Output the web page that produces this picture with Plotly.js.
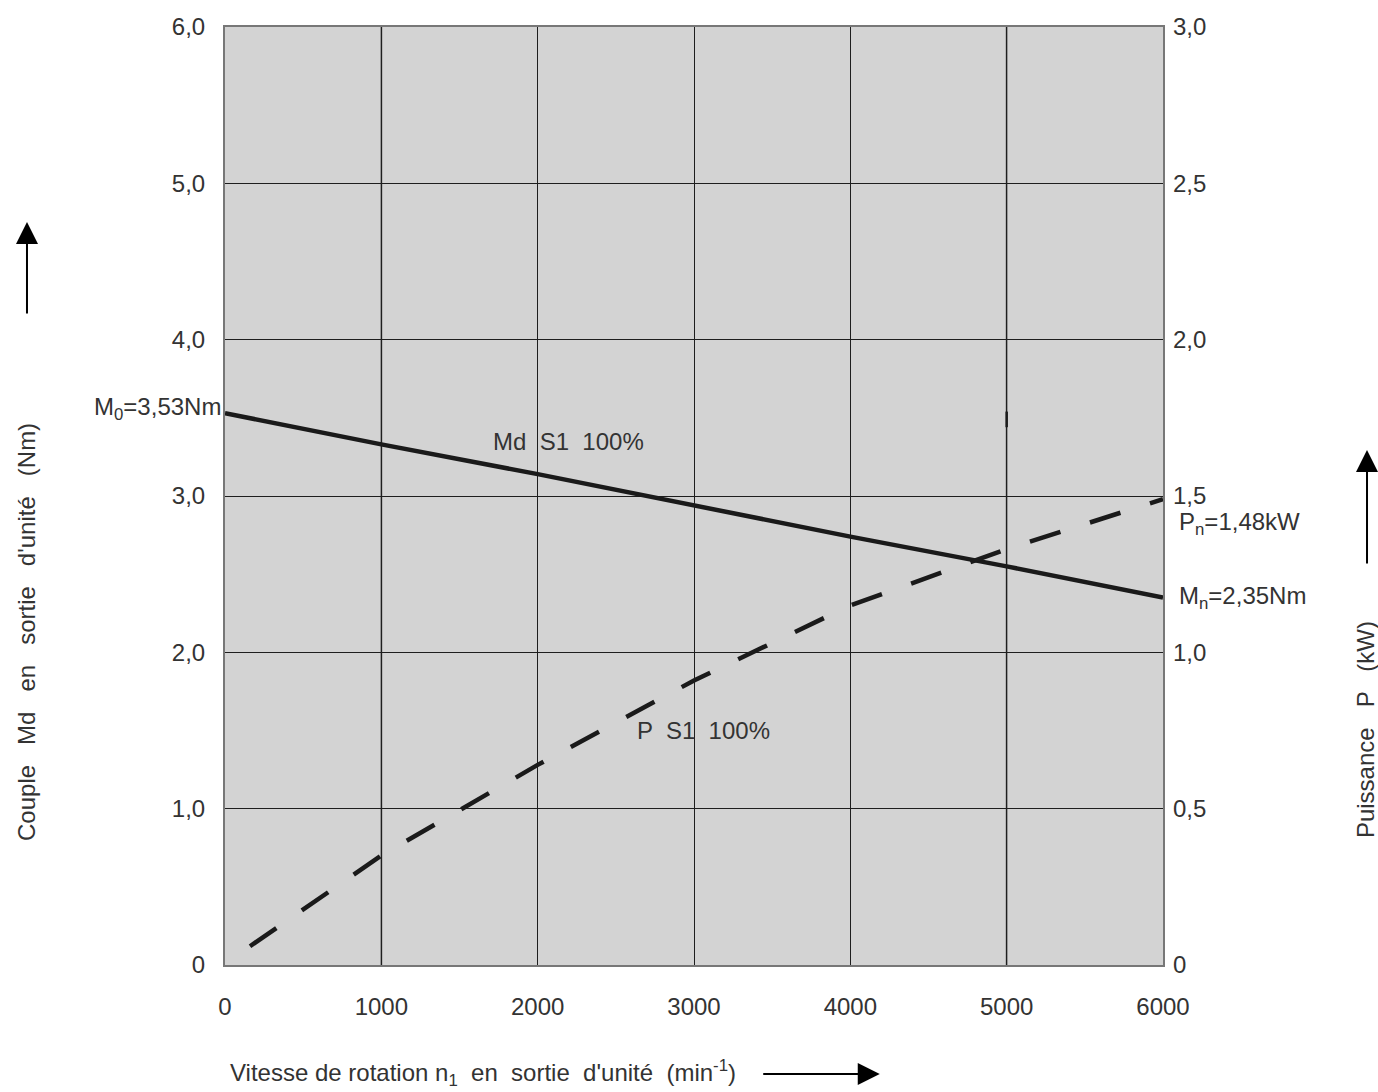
<!DOCTYPE html>
<html>
<head>
<meta charset="utf-8">
<script src="https://cdn.plot.ly/plotly-3.0.1.min.js"></script>
<style>html,body{margin:0;padding:0;background:#fff;}#chart{width:1378px;height:1092px;}</style>
</head>
<body>
<div id="chart"></div>
<script>
// Data
var speedTorque = [0, 1000, 2000, 3000, 4000, 5000, 6000];
var torqueMd = [3.53, 3.33, 3.14, 2.94, 2.74, 2.55, 2.35];
var speedPower = [160, 1000, 2000, 3000, 4000, 5000, 6000];
var powerP = [0.06, 0.35, 0.64, 0.91, 1.15, 1.33, 1.49];
var xTicks = [0, 1000, 2000, 3000, 4000, 5000, 6000];
var xTickText = ['0', '1000', '2000', '3000', '4000', '5000', '6000'];
var yTicks = [0, 1, 2, 3, 4, 5, 6];
var yTickText = ['0', '1,0', '2,0', '3,0', '4,0', '5,0', '6,0'];
var y2Ticks = [0, 0.5, 1, 1.5, 2, 2.5, 3];
var y2TickText = ['0', '0,5', '1,0', '1,5', '2,0', '2,5', '3,0'];

var FONT = 'Liberation Sans, Arial, sans-serif';
var TXT = '#333333';
var FS = 24;

var traces = [
  {x: speedTorque, y: torqueMd, type: 'scatter', mode: 'lines',
   line: {color: '#1a1a1a', width: 4.5}, hoverinfo: 'skip', showlegend: false},
  {x: speedPower, y: powerP, type: 'scatter', mode: 'lines', yaxis: 'y2',
   line: {color: '#1a1a1a', width: 4.5, dash: '32px,31px'}, hoverinfo: 'skip', showlegend: false}
];

var layout = {
  width: 1378, height: 1092,
  margin: {l: 225, r: 215, t: 27, b: 127},
  paper_bgcolor: '#ffffff',
  plot_bgcolor: '#d3d3d3',
  font: {family: FONT, size: FS, color: TXT},
  showlegend: false,
  xaxis: {
    range: [0, 6000], tickvals: xTicks, ticktext: xTickText,
    showgrid: true, gridcolor: '#1e1e1e', gridwidth: 1,
    showline: true, linecolor: '#777777', linewidth: 2, mirror: true,
    zeroline: false, ticks: '', ticklabelstandoff: 19,
    tickfont: {family: FONT, size: FS, color: TXT}, fixedrange: true
  },
  yaxis: {
    range: [0, 6], tickvals: yTicks, ticktext: yTickText,
    showgrid: true, gridcolor: '#1e1e1e', gridwidth: 1,
    showline: true, linecolor: '#777777', linewidth: 2, mirror: true,
    zeroline: false, ticks: '', ticklabelstandoff: 13,
    tickfont: {family: FONT, size: FS, color: TXT}, fixedrange: true
  },
  yaxis2: {
    range: [0, 3], tickvals: y2Ticks, ticktext: y2TickText,
    overlaying: 'y', side: 'right', showgrid: false, zeroline: false,
    showline: false, ticks: '', ticklabelstandoff: 9,
    tickfont: {family: FONT, size: FS, color: TXT}, fixedrange: true
  },
  shapes: [
    {type: 'line', xref: 'x', yref: 'paper', x0: 1000, x1: 1000, y0: 0, y1: 1, layer: 'below',
     line: {color: '#7a7a7a', width: 2}},
    {type: 'line', xref: 'x', yref: 'paper', x0: 5000, x1: 5000, y0: 0, y1: 1, layer: 'below',
     line: {color: '#7a7a7a', width: 2}},
    {type: 'line', xref: 'x', yref: 'y', x0: 5000, x1: 5000, y0: 3.44, y1: 3.54,
     line: {color: '#1a1a1a', width: 2.5}}
  ],
  annotations: [
    {xref: 'x', yref: 'y', x: 2194, y: 3.346, text: 'Md  S1  100%', showarrow: false,
     font: {family: FONT, size: FS, color: TXT}},
    {xref: 'x', yref: 'y', x: 3058, y: 1.497, text: 'P  S1  100%', showarrow: false,
     font: {family: FONT, size: FS, color: TXT}},
    {xref: 'paper', yref: 'y', x: 0, y: 3.56, xanchor: 'right', xshift: -2, yanchor: 'middle',
     text: 'M<sub>0</sub>=3,53Nm', showarrow: false, font: {family: FONT, size: FS, color: TXT}},
    {xref: 'paper', yref: 'paper', x: 1.0149, y: 0.4712, xanchor: 'left', yanchor: 'middle',
     text: 'P<sub>n</sub>=1,48kW', showarrow: false, font: {family: FONT, size: FS, color: TXT}},
    {xref: 'paper', yref: 'paper', x: 1.0149, y: 0.3923, xanchor: 'left', yanchor: 'middle',
     text: 'M<sub>n</sub>=2,35Nm', showarrow: false, font: {family: FONT, size: FS, color: TXT}},
    // axis titles
    {xref: 'paper', yref: 'paper', x: -0.2122, y: 0.355, textangle: -90,
     xanchor: 'center', yanchor: 'middle',
     text: "Couple   Md   en   sortie   d'unité   (Nm)", showarrow: false,
     font: {family: FONT, size: FS, color: TXT}},
    {xref: 'paper', yref: 'paper', x: 1.2154, y: 0.2505, textangle: -90,
     xanchor: 'center', yanchor: 'middle',
     text: 'Puissance   P   (kW)', showarrow: false,
     font: {family: FONT, size: FS, color: TXT}},
    {xref: 'paper', yref: 'paper', x: 0.0032, y: -0.1151, xanchor: 'left', yanchor: 'middle',
     text: "Vitesse de rotation n<sub>1</sub>  en  sortie  d'unité  (min<sup>-1</sup>)", showarrow: false,
     font: {family: FONT, size: FS, color: TXT}},
    // arrows
    {xref: 'paper', yref: 'paper', x: -0.2111, y: 0.7921, ax: 0, ay: 93, text: '',
     showarrow: true, arrowhead: 2, arrowsize: 2.2, arrowwidth: 2, arrowcolor: '#000'},
    {xref: 'paper', yref: 'paper', x: 1.2175, y: 0.549, ax: 0, ay: 115, text: '',
     showarrow: true, arrowhead: 2, arrowsize: 2.2, arrowwidth: 2, arrowcolor: '#000'},
    {xref: 'paper', yref: 'paper', x: 0.698, y: -0.1162, ax: -118, ay: 0, text: '',
     showarrow: true, arrowhead: 2, arrowsize: 2.2, arrowwidth: 2, arrowcolor: '#000'}
  ]
};

Plotly.newPlot('chart', traces, layout, {displayModeBar: false, staticPlot: true});
</script>
</body>
</html>
